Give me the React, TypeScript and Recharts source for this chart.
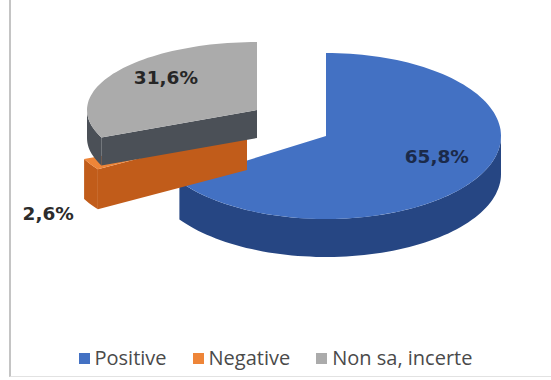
import React from 'react';
import { Cell, Legend, Pie, PieChart } from 'recharts';

// dati
const categories = ['Positive', 'Negative', 'Non sa, incerte'];
const percentages = [65.8, 2.6, 31.6];
const valueLabels = ['65,8%', '2,6%', '31,6%'];

const chartData = categories.map((name, i) => ({
  name,
  value: percentages[i],
  label: valueLabels[i],
}));

// colori: faccia superiore, lati
const COLORS = [
  { top: '#4371c3', side: '#264683', text: '#1b2a4a' },
  { top: '#ee8538', side: '#c15c1a', text: '#2b2b2b' },
  { top: '#ababab', side: '#4b5057', text: '#262626' },
];

// finto 3D: spostamento (esploso) e ellisse di ogni fetta
const SLICE_GEOM = [
  { dx: 31, dy: 11, rx: 175, ry: 83, depth: 38 },
  { dx: -48, dy: 5, rx: 178, ry: 72, depth: 40 },
  { dx: -38, dy: -15, rx: 170, ry: 68, depth: 28 },
];
const LABEL_POS = [
  { f: 0.72, drop: -8 },
  { f: 1.27, drop: 40 },
  { f: 0.64, drop: -9 },
];

const CX = 290;
const CY = 120;
const RAD = Math.PI / 180;

const pt = (cx: number, cy: number, rx: number, ry: number, a: number, h = 0) =>
  [cx + rx * Math.cos(a * RAD), cy - ry * Math.sin(a * RAD) + h];

const arc = (cx: number, cy: number, rx: number, ry: number, a0: number, a1: number, h = 0) => {
  const n = Math.max(2, Math.ceil(Math.abs(a0 - a1) / 2));
  const pts: number[][] = [];
  for (let i = 0; i <= n; i++) {
    pts.push(pt(cx, cy, rx, ry, a0 + ((a1 - a0) * i) / n, h));
  }
  return pts;
};

const toPath = (pts: number[][]) =>
  'M' + pts.map(p => `${p[0].toFixed(1)},${p[1].toFixed(1)}`).join('L') + 'Z';

const sliceIndex = (props: any) => {
  const name = props?.payload?.name ?? props?.name;
  const i = categories.indexOf(name);
  return i < 0 ? props.index ?? 0 : i;
};

// fetta con spessore
const Slice3D = (props: any) => {
  const i = sliceIndex(props);
  const g = SLICE_GEOM[i];
  const c = COLORS[i];
  const cx = props.cx + g.dx;
  const cy = props.cy + g.dy;
  const a0 = props.startAngle;
  const a1 = props.endAngle;
  const hi = Math.max(a0, a1);
  const lo = Math.min(a0, a1);

  const faces: string[] = [];
  // facce radiali visibili
  const radial = (a: number, normal: number) => {
    if (Math.sin(normal * RAD) < -0.01) {
      const [x, y] = pt(cx, cy, g.rx, g.ry, a);
      faces.push(toPath([[cx, cy], [x, y], [x, y + g.depth], [cx, cy + g.depth]]));
    }
  };
  radial(hi, hi + 90);
  radial(lo, lo - 90);

  // lato curvo (metà anteriore)
  const sides: string[] = [];
  for (let k = -2; k <= 1; k++) {
    const s = Math.max(lo, -180 + 360 * k);
    const e = Math.min(hi, 360 * k);
    if (e > s) {
      const top = arc(cx, cy, g.rx, g.ry, e, s);
      const bottom = arc(cx, cy, g.rx, g.ry, s, e, g.depth);
      sides.push(toPath([...top, ...bottom]));
    }
  }

  const topFace = toPath([[cx, cy], ...arc(cx, cy, g.rx, g.ry, hi, lo)]);

  return (
    <g>
      {faces.map((d, k) => (
        <path key={`f${k}`} d={d} fill={c.side} />
      ))}
      {sides.map((d, k) => (
        <path key={`s${k}`} d={d} fill={c.side} />
      ))}
      <path d={topFace} fill={c.top} />
    </g>
  );
};

const renderLabel = (props: any) => {
  const i = sliceIndex(props);
  const g = SLICE_GEOM[i];
  const lp = LABEL_POS[i];
  const cx = props.cx + g.dx;
  const cy = props.cy + g.dy;
  const mid = (props.startAngle + props.endAngle) / 2;
  const x = cx + lp.f * g.rx * Math.cos(mid * RAD);
  const y = cy - lp.f * g.ry * Math.sin(mid * RAD) + lp.drop;
  return (
    <text
      key={`lbl-${i}`}
      x={x}
      y={y}
      textAnchor="middle"
      dominantBaseline="central"
      fontFamily="'DejaVu Sans', sans-serif"
      fontWeight="bold"
      fontSize={18.5}
      fill={COLORS[i].text}
    >
      {valueLabels[i]}
    </text>
  );
};

const renderLegend = () => (
  <div
    style={{
      display: 'flex',
      justifyContent: 'center',
      gap: 26,
      fontFamily: "'Open Sans', sans-serif",
      fontSize: 20,
      color: '#4a4a4a',
      lineHeight: '24px',
    }}
  >
    {categories.map((c, i) => (
      <span key={c} style={{ display: 'flex', alignItems: 'center' }}>
        <span
          style={{ width: 11, height: 11, background: COLORS[i].top, marginRight: 5, display: 'inline-block' }}
        />
        {c}
      </span>
    ))}
  </div>
);

export default function App() {
  return (
    <div style={{ position: 'absolute', left: 0, top: 0, width: 551, height: 380, background: '#fff' }}>
      <div
        style={{
          position: 'absolute',
          left: 9,
          top: 0,
          width: 560,
          height: 376,
          borderLeft: '2px solid #c4c4c4',
          borderBottom: '1px solid #e2e2e2',
        }}
      />
      <div style={{ position: 'absolute', left: 0, top: 0 }}>
        <PieChart width={551} height={380}>
          <Pie
            data={chartData}
            dataKey="value"
            nameKey="name"
            cx={CX}
            cy={CY}
            outerRadius={170}
            startAngle={90}
            endAngle={-270}
            stroke="none"
            shape={Slice3D}
            inactiveShape={Slice3D}
            activeShape={Slice3D}
            label={renderLabel}
            labelLine={false}
            isAnimationActive={false}
          >
            {chartData.map((d, i) => (
              <Cell key={d.name} fill={COLORS[i].top} />
            ))}
          </Pie>
          <Legend
            content={renderLegend}
            verticalAlign="bottom"
            wrapperStyle={{ left: 0, width: 551, top: 346 }}
          />
        </PieChart>
      </div>
    </div>
  );
}
